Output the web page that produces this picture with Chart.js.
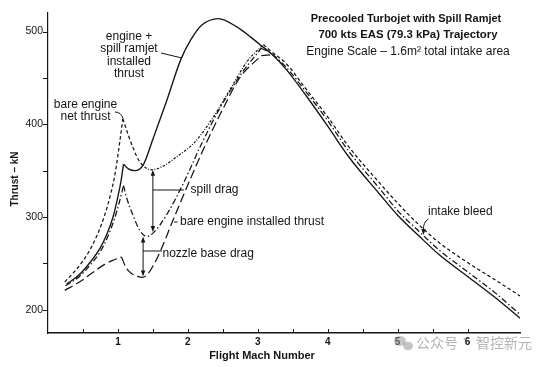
<!DOCTYPE html>
<html>
<head>
<meta charset="utf-8">
<script src="https://cdn.jsdelivr.net/npm/chart.js@4.4.1/dist/chart.umd.min.js"></script>
<style>
  html, body { margin: 0; padding: 0; background: #fff; }
  canvas { display: block; }
</style>
</head>
<body>
<canvas id="chart" width="554" height="367"></canvas>
<script>
// engine + spill ramjet installed thrust (solid)
const rjMach   = [0.27, 0.45, 0.6, 0.75, 0.85, 0.93, 1.0, 1.04, 1.08, 1.15, 1.24, 1.36, 1.5, 1.7, 1.9, 2.05, 2.2, 2.44, 2.7, 2.9, 3.03, 3.21, 3.41, 3.7, 4.0, 4.3, 4.75, 5.0, 5.3, 5.6, 6.0, 6.4, 6.75];
const rjThrust = [228, 238, 251, 267, 283, 300, 322, 337, 357, 352, 350, 356, 384, 426, 470, 492, 507, 514, 505, 494, 486, 475, 459, 430, 398, 365, 324, 302, 280, 259, 236, 213, 191];
const rjBreaks = [8];

// bare engine net thrust (short dash)
const netMach   = [0.24, 0.4, 0.58, 0.7, 0.81, 0.9, 0.96, 1.03, 1.07, 1.15, 1.22, 1.3, 1.38, 1.48, 1.65, 1.84, 2.09, 2.34, 2.6, 2.85, 3.08, 3.2, 3.4, 3.7, 4.0, 4.3, 4.75, 5.0, 5.3, 5.6, 6.0, 6.4, 6.75];
const netThrust = [230, 243, 262, 280, 302, 326, 347, 383, 406, 388, 374, 361, 354, 351, 355, 365, 380, 405, 437, 468, 486, 478, 466, 437, 408, 376, 336, 315, 292, 272, 251, 232, 215];
const netBreaks = [8, 20];

// thrust less spill drag (dash-dot)
const spillMach   = [0.25, 0.45, 0.6, 0.75, 0.85, 0.95, 1.02, 1.08, 1.12, 1.22, 1.31, 1.41, 1.52, 1.7, 1.94, 2.19, 2.44, 2.75, 3.05, 3.2, 3.4, 3.7, 4.0, 4.3, 4.75, 5.0, 5.3, 5.6, 6.0, 6.4, 6.75];
const spillThrust = [226, 236, 248, 263, 278, 298, 316, 334, 322, 301, 286, 279, 284, 303, 337, 378, 415, 453, 482, 476, 462, 434, 404, 371, 330, 307, 285, 264, 241, 218, 195];
const spillBreaks = [7, 18];

// bare engine installed thrust (long dash)
const instMach   = [0.24, 0.45, 0.6, 0.81, 0.95, 1.05, 1.12, 1.2, 1.28, 1.35, 1.42, 1.5, 1.6, 1.79, 1.99, 2.24, 2.49, 2.75, 3.05, 3.2];
const instThrust = [221, 230, 238, 249, 254, 257, 245, 239, 236, 235, 238, 247, 262, 297, 333, 376, 415, 451, 474, 475];
const instBreaks = [5, 18];

const xTicks = [1, 2, 3, 4, 5, 6];
const yTicks = [200, 300, 400, 500];

const ink = "#141414";
const sans = '"Liberation Sans", Arial, sans-serif';

// split a curve at its sharp corners so each piece is smoothed on its own
function pieces(mach, thrust, breaks, style) {
  const pts = mach.map((m, i) => ({ x: m, y: thrust[i] }));
  const cuts = [0, ...breaks, pts.length - 1];
  const out = [];
  for (let i = 0; i < cuts.length - 1; i++) {
    out.push({
      data: pts.slice(cuts[i], cuts[i + 1] + 1),
      borderColor: ink,
      borderWidth: 1.25,
      pointRadius: 0,
      fill: false,
      cubicInterpolationMode: "monotone",
      ...style
    });
  }
  return out;
}

function arrowHead(ctx, x, y, dir) {
  ctx.beginPath();
  ctx.moveTo(x, y);
  ctx.lineTo(x - 2.2, y - dir * 6);
  ctx.lineTo(x + 2.2, y - dir * 6);
  ctx.closePath();
  ctx.fill();
}

function text(ctx, s, x, y, font, align) {
  ctx.font = font;
  ctx.textAlign = align || "left";
  ctx.textBaseline = "middle";
  ctx.fillText(s, x, y);
}

const overlay = {
  id: "overlay",
  afterDraw(chart) {
    const { ctx, chartArea: a, scales: { x, y } } = chart;
    ctx.save();
    ctx.strokeStyle = ink;
    ctx.fillStyle = ink;
    ctx.lineWidth = 1;

    // tick marks: y outward, x inward
    y.ticks.forEach(t => {
      if (t.value % 50 === 0) {
        const py = Math.round(y.getPixelForValue(t.value)) + 0.5;
        ctx.beginPath(); ctx.moveTo(a.left - 5, py); ctx.lineTo(a.left, py); ctx.stroke();
      }
    });
    x.ticks.forEach(t => {
      if (t.value > 0 && t.value % 0.5 === 0) {
        const px = Math.round(x.getPixelForValue(t.value)) + 0.5;
        ctx.beginPath(); ctx.moveTo(px, a.bottom); ctx.lineTo(px, a.bottom - 4); ctx.stroke();
      }
    });

    // axis titles
    text(ctx, "Flight Mach Number", 262, 356, "bold 11px " + sans, "center");
    ctx.save();
    ctx.translate(15, 179);
    ctx.rotate(-Math.PI / 2);
    text(ctx, "Thrust \u2013 kN", 0, 0, "bold 10px " + sans, "center");
    ctx.restore();

    // title block
    text(ctx, "Precooled Turbojet with Spill Ramjet", 406, 18.5, "bold 11px " + sans, "center");
    text(ctx, "700 kts EAS (79.3 kPa) Trajectory", 408, 34.5, "bold 11.4px " + sans, "center");
    text(ctx, "Engine Scale \u2013 1.6m\u00b2 total intake area", 408, 52, "12px " + sans, "center");

    const f = "12px " + sans;

    // engine + spill ramjet label
    text(ctx, "engine +", 129, 37, f, "center");
    text(ctx, "spill ramjet", 129, 49, f, "center");
    text(ctx, "installed", 129, 61.5, f, "center");
    text(ctx, "thrust", 129, 73.5, f, "center");
    ctx.beginPath(); ctx.moveTo(161, 53); ctx.lineTo(182, 58); ctx.stroke();

    // bare engine net thrust label
    text(ctx, "bare engine", 85.5, 105, f, "center");
    text(ctx, "net thrust", 85.5, 117, f, "center");
    ctx.beginPath(); ctx.moveTo(115, 112); ctx.quadraticCurveTo(121, 112, 123, 118.5); ctx.stroke();

    // spill drag arrow
    const sx = x.getPixelForValue(1.5);
    const sTop = y.getPixelForValue(351), sBot = y.getPixelForValue(284);
    ctx.beginPath(); ctx.moveTo(sx, sTop + 3); ctx.lineTo(sx, sBot - 3); ctx.stroke();
    arrowHead(ctx, sx, sTop, -1);
    arrowHead(ctx, sx, sBot, 1);
    ctx.beginPath(); ctx.moveTo(sx, 190); ctx.lineTo(184, 190); ctx.stroke();
    text(ctx, "spill drag", 190.5, 190, f);

    // nozzle base drag arrow
    const nx = x.getPixelForValue(1.36);
    const nTop = y.getPixelForValue(279), nBot = y.getPixelForValue(236);
    ctx.beginPath(); ctx.moveTo(nx, nTop + 3); ctx.lineTo(nx, nBot - 3); ctx.stroke();
    arrowHead(ctx, nx, nTop, -1);
    arrowHead(ctx, nx, nBot, 1);
    ctx.beginPath(); ctx.moveTo(nx, 251); ctx.lineTo(162, 251); ctx.stroke();
    text(ctx, "nozzle base drag", 162.5, 254, f);

    // installed thrust label
    ctx.beginPath(); ctx.moveTo(174, 222); ctx.lineTo(177.5, 222); ctx.stroke();
    text(ctx, "bare engine installed thrust", 180, 221.5, f);

    // intake bleed
    text(ctx, "intake bleed", 428, 212, f);
    ctx.beginPath(); ctx.moveTo(428.5, 219); ctx.quadraticCurveTo(423, 222, 423.5, 230); ctx.stroke();
    arrowHead(ctx, 423.5, 235, 1);

    // watermark
    ctx.fillStyle = "rgba(150,150,150,0.55)";
    ctx.beginPath(); ctx.ellipse(400, 341, 6, 5, 0, 0, Math.PI * 2); ctx.fill();
    ctx.beginPath(); ctx.ellipse(408, 346, 5, 4.2, 0, 0, Math.PI * 2); ctx.fill();
    ctx.fillStyle = "#b4b4b4";
    text(ctx, "\u516c\u4f17\u53f7", 416, 343, '14px "Noto Sans CJK SC", sans-serif');
    text(ctx, "\u00b7", 465, 340, "bold 14px " + sans, "center");
    text(ctx, "\u667a\u63a7\u65b0\u5143", 476, 343, '14px "Noto Sans CJK SC", sans-serif');

    ctx.restore();
  }
};

new Chart(document.getElementById("chart"), {
  type: "line",
  data: {
    datasets: [
      ...pieces(instMach, instThrust, instBreaks, { borderDash: [9, 4] }),
      ...pieces(spillMach, spillThrust, spillBreaks, { borderDash: [6, 2.5, 1.5, 2.5] }),
      ...pieces(netMach, netThrust, netBreaks, {
        borderDash: [3.5, 2.5],
        segment: {
          borderDash: c => (c.p0.parsed.x >= 1.38 && c.p1.parsed.x <= 3.08 ? [2.5, 1.5, 1, 1.5] : undefined)
        }
      }),
      ...pieces(rjMach, rjThrust, rjBreaks, { borderWidth: 1.35 })
    ]
  },
  options: {
    responsive: false,
    animation: false,
    devicePixelRatio: 1,
    layout: { padding: { left: 0, right: 34, top: 13, bottom: 0 } },
    plugins: { legend: { display: false }, tooltip: { enabled: false } },
    scales: {
      x: {
        type: "linear",
        min: 0,
        max: 6.75,
        afterFit: s => { s.height = 34; },
        grid: { display: false, drawTicks: false },
        border: { display: true, color: ink, width: 1.5 },
        ticks: {
          stepSize: 0.5,
          autoSkip: false,
          maxRotation: 0,
          padding: 3,
          color: ink,
          font: { family: sans, size: 10, weight: "bold" },
          callback: v => (xTicks.includes(v) ? v : "")
        }
      },
      y: {
        type: "linear",
        min: 175,
        max: 520,
        afterFit: s => { s.width = 48; },
        grid: { display: false, drawTicks: false },
        border: { display: true, color: ink, width: 1.2 },
        ticks: {
          stepSize: 50,
          autoSkip: false,
          padding: 5,
          color: ink,
          font: { family: sans, size: 10.5 },
          callback: v => (yTicks.includes(v) ? v : "")
        }
      }
    }
  },
  plugins: [overlay]
});
</script>
</body>
</html>
